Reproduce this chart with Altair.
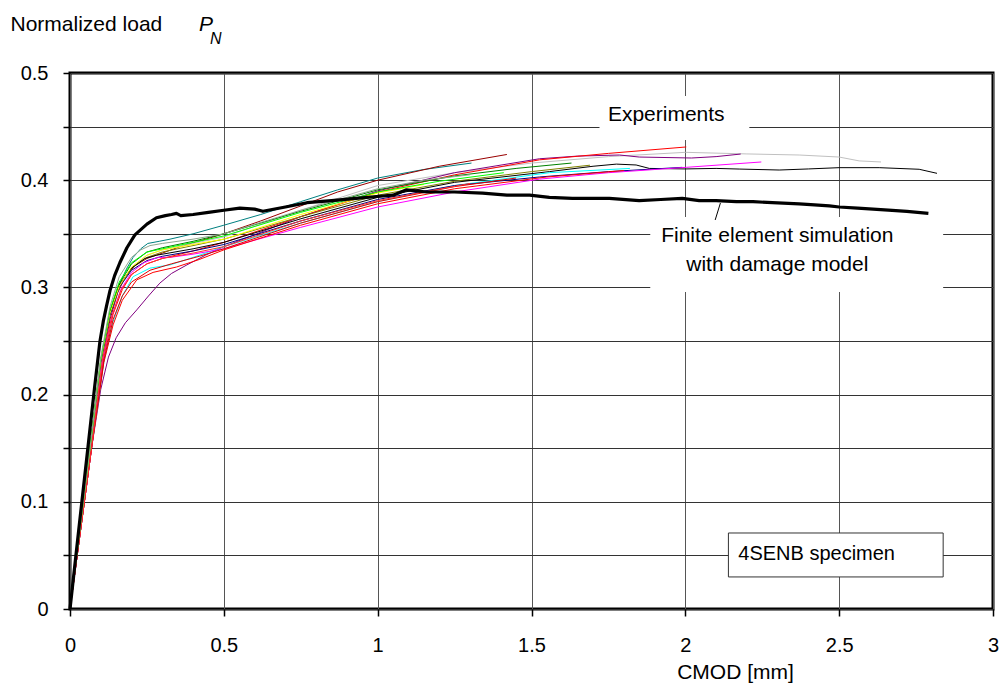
import altair as alt
import pandas as pd

# ---------------- data ----------------
series_names = ["teal", "darkred", "lightgray", "purple", "red_top", "green", "olive",
                "black_thin", "cyan", "navy", "magenta", "red2", "red3", "red4",
                "yellow", "lime", "gray"]
series_colors = ["#008080", "#990000", "#c0c0c0", "#800080", "#ff0000", "#008000", "#808000",
                 "#000000", "#00ffff", "#000080", "#ff00ff", "#ff0000", "#e00000", "#ff3030",
                 "#ffff00", "#00ff00", "#8fa88f"]

teal_x = [0, 0.065, 0.1, 0.125, 0.145, 0.162, 0.185, 0.205, 0.23, 0.253, 0.29, 0.325, 0.4, 0.5, 0.62, 0.75, 0.87, 1.0, 1.15, 1.305]
teal_y = [0, 0.15, 0.23, 0.27, 0.29, 0.304, 0.318, 0.328, 0.336, 0.341, 0.343, 0.345, 0.350, 0.358, 0.368, 0.380, 0.391, 0.402, 0.410, 0.416]

darkred_x = [0, 0.07, 0.105, 0.13, 0.155, 0.18, 0.21, 0.25, 0.3, 0.357, 0.43, 0.5, 0.62, 0.75, 0.87, 1.0, 1.2, 1.42]
darkred_y = [0, 0.15, 0.23, 0.27, 0.295, 0.31, 0.32, 0.327, 0.332, 0.338, 0.344, 0.350, 0.362, 0.376, 0.389, 0.400, 0.413, 0.424]

lightgray_x = [0, 0.065, 0.1, 0.13, 0.16, 0.2, 0.25, 0.3, 0.4, 0.5, 0.75, 1.0, 1.25, 1.5, 1.75, 2.0, 2.2, 2.37, 2.5, 2.565, 2.636]
lightgray_y = [0, 0.15, 0.23, 0.275, 0.3, 0.318, 0.33, 0.335, 0.341, 0.347, 0.372, 0.395, 0.407, 0.416, 0.422, 0.426, 0.4245, 0.4235, 0.4216, 0.418, 0.417]

purple_x = [0, 0.07, 0.1, 0.125, 0.15, 0.18, 0.217, 0.255, 0.292, 0.33, 0.38, 0.44, 0.5, 0.75, 1.0, 1.25, 1.526, 1.65, 1.786, 1.85, 2.02, 2.1, 2.18]
purple_y = [0, 0.15, 0.205, 0.235, 0.253, 0.267, 0.279, 0.292, 0.304, 0.313, 0.321, 0.330, 0.338, 0.366, 0.39, 0.407, 0.420, 0.4225, 0.4235, 0.4216, 0.4207, 0.422, 0.4244]

redtop_x = [0, 0.07, 0.11, 0.14, 0.17, 0.2, 0.25, 0.3, 0.4, 0.5, 0.75, 1.0, 1.25, 1.526, 1.75, 2.003]
redtop_y = [0, 0.15, 0.235, 0.275, 0.298, 0.312, 0.322, 0.327, 0.334, 0.342, 0.366, 0.389, 0.405, 0.419, 0.425, 0.431]

green_x = [0, 0.065, 0.1, 0.13, 0.16, 0.2, 0.25, 0.3, 0.4, 0.5, 0.75, 1.0, 1.25, 1.45, 1.63]
green_y = [0, 0.15, 0.232, 0.278, 0.303, 0.322, 0.333, 0.337, 0.343, 0.35, 0.371, 0.391, 0.404, 0.411, 0.416]

olive_x = [0, 0.065, 0.1, 0.13, 0.16, 0.2, 0.25, 0.3, 0.4, 0.5, 0.75, 1.0, 1.25, 1.5, 1.69]
olive_y = [0, 0.15, 0.23, 0.275, 0.3, 0.318, 0.328, 0.333, 0.339, 0.345, 0.366, 0.386, 0.399, 0.408, 0.414]

black_x = [0, 0.065, 0.1, 0.13, 0.16, 0.2, 0.243, 0.281, 0.4, 0.5, 0.75, 1.0, 1.25, 1.558, 1.7, 1.776, 1.84, 1.883, 2.0, 2.1, 2.175, 2.305, 2.4, 2.5, 2.63, 2.76, 2.818]
black_y = [0, 0.15, 0.232, 0.277, 0.302, 0.318, 0.327, 0.330, 0.336, 0.342, 0.364, 0.384, 0.398, 0.408, 0.413, 0.415, 0.4142, 0.411, 0.4105, 0.411, 0.4104, 0.4095, 0.4105, 0.4117, 0.4117, 0.4102, 0.4064]

cyan_x = [0, 0.07, 0.11, 0.14, 0.17, 0.205, 0.26, 0.325, 0.4, 0.5, 0.75, 1.0, 1.25, 1.558, 1.82]
cyan_y = [0, 0.15, 0.23, 0.268, 0.292, 0.31, 0.318, 0.321, 0.328, 0.338, 0.36, 0.38, 0.395, 0.407, 0.411]

navy_x = [0, 0.065, 0.1, 0.13, 0.16, 0.2, 0.25, 0.3, 0.4, 0.5, 0.75, 1.0, 1.25, 1.526, 1.75, 1.99]
navy_y = [0, 0.15, 0.23, 0.274, 0.3, 0.316, 0.325, 0.329, 0.334, 0.340, 0.362, 0.382, 0.395, 0.403, 0.408, 0.412]

magenta_x = [0, 0.07, 0.105, 0.135, 0.165, 0.2, 0.24, 0.285, 0.325, 0.4, 0.5, 0.75, 1.0, 1.25, 1.526, 1.75, 2.003, 2.247]
magenta_y = [0, 0.15, 0.23, 0.272, 0.298, 0.314, 0.323, 0.328, 0.328, 0.331, 0.336, 0.356, 0.375, 0.389, 0.401, 0.407, 0.412, 0.417]

red2_x = [0, 0.07, 0.11, 0.14, 0.17, 0.217, 0.27, 0.346, 0.42, 0.5, 0.75, 1.0, 1.25, 1.55, 1.8]
red2_y = [0, 0.15, 0.23, 0.265, 0.288, 0.307, 0.314, 0.319, 0.326, 0.335, 0.358, 0.378, 0.392, 0.403, 0.409]

red3_x = [0, 0.07, 0.11, 0.14, 0.17, 0.2, 0.26, 0.33, 0.42, 0.5, 0.75, 1.0, 1.25, 1.45]
red3_y = [0, 0.15, 0.232, 0.27, 0.292, 0.305, 0.316, 0.322, 0.329, 0.336, 0.36, 0.38, 0.394, 0.402]

red4_x = [0, 0.07, 0.105, 0.135, 0.165, 0.2, 0.25, 0.3, 0.4, 0.5, 0.75, 1.0, 1.3]
red4_y = [0, 0.15, 0.232, 0.272, 0.297, 0.312, 0.322, 0.327, 0.332, 0.338, 0.362, 0.381, 0.397]

yellow_x = [0, 0.065, 0.1, 0.13, 0.16, 0.2, 0.25, 0.3, 0.4, 0.5, 0.75, 1.0, 1.15]
yellow_y = [0, 0.15, 0.232, 0.276, 0.301, 0.319, 0.33, 0.335, 0.34, 0.345, 0.368, 0.388, 0.396]

lime_x = [0, 0.065, 0.1, 0.13, 0.16, 0.2, 0.25, 0.3, 0.4, 0.5, 0.75, 1.0, 1.2, 1.41]
lime_y = [0, 0.15, 0.233, 0.279, 0.305, 0.323, 0.333, 0.336, 0.342, 0.348, 0.37, 0.389, 0.399, 0.407]

gray_x = [0, 0.065, 0.1, 0.13, 0.16, 0.2, 0.23, 0.26, 0.3, 0.4, 0.5, 0.75, 1.0, 1.15, 1.3]
gray_y = [0, 0.15, 0.235, 0.282, 0.31, 0.328, 0.335, 0.339, 0.341, 0.345, 0.35, 0.372, 0.392, 0.4, 0.405]

fe_x = [0, 0.03, 0.058, 0.08, 0.097, 0.108, 0.119, 0.13, 0.145, 0.162, 0.185, 0.211, 0.25, 0.281, 0.31, 0.33,
        0.346, 0.36, 0.4, 0.45, 0.5, 0.552, 0.6, 0.627, 0.7, 0.77, 0.85, 0.93, 1.006, 1.05, 1.094, 1.159, 1.25,
        1.341, 1.42, 1.494, 1.558, 1.633, 1.7, 1.753, 1.85, 1.92, 1.99, 2.045, 2.1, 2.166, 2.22, 2.283, 2.37,
        2.42, 2.468, 2.5, 2.56, 2.66, 2.72, 2.79]
fe_y = [0, 0.078, 0.15, 0.207, 0.249, 0.268, 0.283, 0.297, 0.311, 0.323, 0.337, 0.349, 0.359, 0.365, 0.367, 0.368,
        0.369, 0.367, 0.368, 0.370, 0.372, 0.374, 0.373, 0.371, 0.375, 0.379, 0.381, 0.383, 0.385, 0.386, 0.391,
        0.389, 0.389, 0.388, 0.386, 0.386, 0.384, 0.383, 0.383, 0.383, 0.381, 0.382, 0.383, 0.381, 0.381, 0.380,
        0.380, 0.379, 0.378, 0.377, 0.376, 0.375, 0.374, 0.372, 0.371, 0.369]

series_xy = [(teal_x, teal_y), (darkred_x, darkred_y), (lightgray_x, lightgray_y), (purple_x, purple_y),
             (redtop_x, redtop_y), (green_x, green_y), (olive_x, olive_y), (black_x, black_y),
             (cyan_x, cyan_y), (navy_x, navy_y), (magenta_x, magenta_y), (red2_x, red2_y),
             (red3_x, red3_y), (red4_x, red4_y), (yellow_x, yellow_y), (lime_x, lime_y), (gray_x, gray_y)]

x_ticks = [0, 0.5, 1, 1.5, 2, 2.5, 3]
y_ticks = [0, 0.05, 0.1, 0.15, 0.2, 0.25, 0.3, 0.35, 0.4, 0.45, 0.5]

# ---------------- tables ----------------
rows = []
for name, (xs, ys) in zip(series_names, series_xy):
    for i, (xv, yv) in enumerate(zip(xs, ys)):
        rows.append({"series": name, "i": i, "x": xv, "y": yv})
exp_df = pd.DataFrame(rows)
fe_df = pd.DataFrame({"i": range(len(fe_x)), "x": fe_x, "y": fe_y})

FONT = "Liberation Sans"

xscale = alt.Scale(domain=[0, 3], nice=False, zero=False)
yscale = alt.Scale(domain=[0, 0.5], nice=False, zero=False)
xaxis = alt.Axis(values=x_ticks, format=".1~f", grid=True, gridColor="#555555", gridWidth=1,
                 domain=False, ticks=True, tickSize=7, tickColor="black", tickWidth=1.5,
                 labelFontSize=20, labelFont=FONT, labelColor="black", labelPadding=19,
                 title="CMOD [mm]", titleFont=FONT, titleFontSize=21, titleFontWeight="normal",
                 titleColor="black", titleX=665, titleY=69, titleAlign="center",
                 titleBaseline="alphabetic", labelFlush=False)
yaxis = alt.Axis(values=y_ticks, format=".1~f",
                 labelExpr="(round(datum.value*100) % 10 == 0) ? datum.label : ''",
                 grid=True, gridColor="#333333", gridWidth=1,
                 domain=False, ticks=True, tickSize=7, tickColor="black", tickWidth=1.5,
                 labelFontSize=20, labelFont=FONT, labelColor="black", labelPadding=15,
                 title="Normalized load", titleFont=FONT, titleFontSize=21, titleFontWeight="normal",
                 titleColor="black", titleAngle=0, titleX=-60, titleY=-43, titleAlign="left",
                 titleBaseline="alphabetic", labelFlush=False)


def X(field):
    return alt.X(f"{field}:Q", scale=xscale, axis=xaxis)


def Y(field):
    return alt.Y(f"{field}:Q", scale=yscale, axis=yaxis)


# white boxes behind labels (hide the grid)
boxes_df = pd.DataFrame({"x": [1.721, 1.886], "x2": [2.208, 2.838],
                         "y": [0.4375, 0.2957], "y2": [0.4785, 0.3657]})
boxes = alt.Chart(boxes_df).mark_rect(fill="white", stroke=None).encode(
    x=X("x"), x2="x2", y=Y("y"), y2="y2")

lines = alt.Chart(exp_df).mark_line(strokeWidth=1, clip=True).encode(
    x=X("x"), y=Y("y"),
    color=alt.Color("series:N", scale=alt.Scale(domain=series_names, range=series_colors), legend=None),
    detail="series:N", order="i:Q")

fe_line = alt.Chart(fe_df).mark_line(strokeWidth=3.2, color="black", strokeJoin="round").encode(
    x=X("x"), y=Y("y"), order="i:Q")

leader_df = pd.DataFrame({"x": [2.114], "x2": [2.097], "y": [0.3787], "y2": [0.3629]})
leader = alt.Chart(leader_df).mark_rule(color="black", strokeWidth=1).encode(
    x=X("x"), x2="x2", y=Y("y"), y2="y2")

labels_df = pd.DataFrame({"x": [1.938, 2.299, 2.299],
                          "y": [0.4608, 0.348, 0.3205],
                          "t": ["Experiments", "Finite element simulation", "with damage model"]})
labels = alt.Chart(labels_df).mark_text(font=FONT, fontSize=21, color="black", align="center",
                                        baseline="middle").encode(x=X("x"), y=Y("y"), text="t:N")

spec_box_df = pd.DataFrame({"x": [2.140], "x2": [2.838], "y": [0.0299], "y2": [0.0709]})
spec_box = alt.Chart(spec_box_df).mark_rect(fill="white", stroke="#333333", strokeWidth=1).encode(
    x=X("x"), x2="x2", y=Y("y"), y2="y2")
spec_text_df = pd.DataFrame({"x": [2.172], "y": [0.0515], "t": ["4SENB specimen"]})
spec_text = alt.Chart(spec_text_df).mark_text(font=FONT, fontSize=20, color="black", align="left",
                                              baseline="middle").encode(x=X("x"), y=Y("y"), text="t:N")

p_df = pd.DataFrame({"t": ["P"]})
p_text = alt.Chart(p_df).mark_text(font=FONT, fontSize=21, fontStyle="italic", color="black",
                                   align="left", baseline="alphabetic").encode(
    x=alt.value(129), y=alt.value(-42), text="t:N")
n_df = pd.DataFrame({"t": ["N"]})
n_text = alt.Chart(n_df).mark_text(font=FONT, fontSize=16, fontStyle="italic", color="black",
                                   align="left", baseline="alphabetic").encode(
    x=alt.value(140), y=alt.value(-29), text="t:N")

chart = alt.layer(boxes, lines, fe_line, leader, labels, spec_box, spec_text, p_text, n_text).properties(
    width=923, height=536,
    autosize=alt.AutoSizeParams(type="none"),
    padding={"left": 70, "top": 73, "right": 9, "bottom": 78},
    background="white",
).configure_view(stroke="black", strokeWidth=3)

chart.save("out.html", embed_options={"renderer": "svg", "actions": False})
